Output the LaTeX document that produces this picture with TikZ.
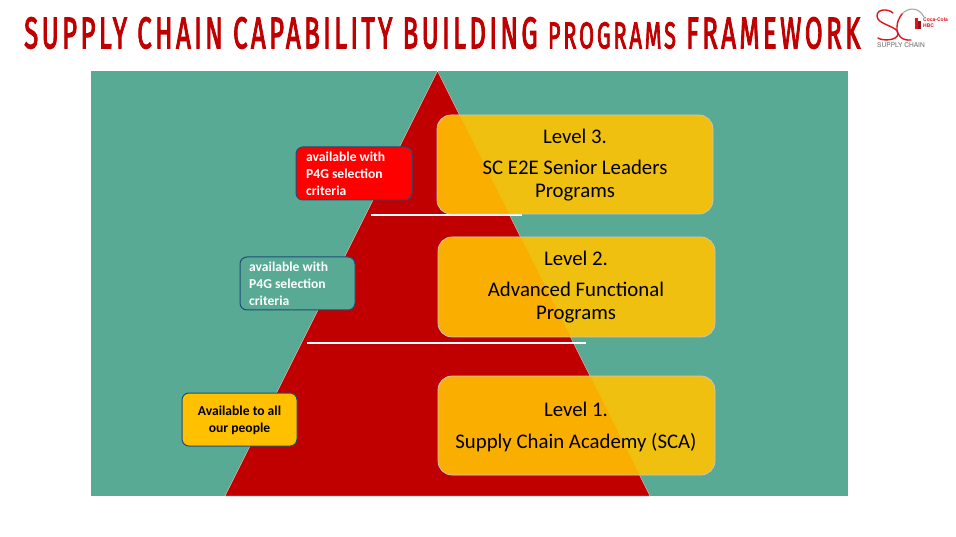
\documentclass[tikz,border=0pt]{standalone}
\usepackage{fontspec}
\setmainfont{Carlito}
\newfontfamily\titlefont[LetterSpace=13,FakeBold=3]{Fira Sans}
\newfontfamily\logofont{TeX Gyre Heros}
\definecolor{tealbg}{HTML}{58AA94}
\definecolor{pyrred}{HTML}{C00000}
\definecolor{boxyel}{HTML}{F0C010}
\definecolor{boxamb}{HTML}{FAAE00}
\definecolor{tagamb}{HTML}{FFC000}
\definecolor{navyedge}{HTML}{1F4E79}
\definecolor{logored}{HTML}{E0141E}
\tikzset{
  x=1pt,y=-1pt,
  levelbox/.style={rounded corners=14pt,draw=gray!45,line width=.7pt},
  leveltext/.style={font=\fontsize{20.8}{23}\selectfont,align=center,text=black,anchor=center},
  tagbox/.style={rounded corners=7pt,draw=navyedge,line width=1pt},
  tagtext/.style={font=\bfseries\fontsize{13.6}{17}\selectfont,align=left,anchor=west,text=white},
  sepline/.style={white,line width=1.4pt}
}
\begin{document}
\begin{tikzpicture}
\useasboundingbox (0,0) rectangle (956,537);
\fill[white] (0,0) rectangle (956,537);
% title
\node[anchor=west,inner sep=0pt,text=pyrred] (title) at (24,33) {\resizebox{836pt}{31pt}{\titlefont SUPPLY CHAIN CAPABILITY BUILDING {\fontsize{8.4}{10}\selectfont PROGRAMS} FRAMEWORK}};
% logo
\draw[gray!70,line width=1.1pt] (902,14) .. controls (908,7) and (919,7) .. (924,17);
\draw[logored,line width=1.4pt,line cap=round] (893,13) .. controls (889,9) and (877,8) .. (877,16) .. controls (877,25) and (899,26) .. (898,34) .. controls (897,41) and (882,41) .. (878,38);
\draw[logored,line width=1.4pt,line cap=round] (911,40) .. controls (902,41) and (896,35) .. (897,27) .. controls (897,22) and (899,18) .. (902,14);
\fill[logored] (915,18) rectangle (918,29);
\fill[logored!70!black] (918,21) rectangle (921,29);
\node[inner sep=0pt,text=logored,font=\logofont\bfseries\fontsize{5}{5.5}\selectfont,align=left,anchor=west] (hbc) at (923,22.5) {Coca-Cola\\HBC};
\node[inner sep=0pt,text=gray!80!black,font=\logofont\fontsize{6.6}{7}\selectfont,anchor=west] (sc) at (877,45) {SUPPLY CHAIN};
% background and pyramid
\fill[tealbg] (91,71) rectangle (848,496);
\coordinate (apex) at (437.5,71);
\coordinate (bl) at (225,496);
\coordinate (br) at (650,496);
\fill[pyrred,draw=white!80!tealbg,line width=.4pt] (apex) -- (br) -- (bl) -- cycle;
\coordinate (s1a) at (371,215);
\coordinate (s1b) at (522,215);
\coordinate (s2a) at (307,343);
\coordinate (s2b) at (586,343);
\draw[sepline] (s1a) -- (s1b);
\draw[sepline] (s2a) -- (s2b);
% level panels
\foreach \a/\b/\c/\d/\n in {437/115/713/214/l3,438/237/715/337/l2,438/376/715/475/l1}{
  \fill[boxyel,rounded corners=14pt] (\a,\b) rectangle (\c,\d);
  \begin{scope}
    \clip (apex) -- (br) -- (bl) -- cycle;
    \fill[boxamb,rounded corners=14pt] (\a,\b) rectangle (\c,\d);
  \end{scope}
  \draw[levelbox] (\a,\b) rectangle (\c,\d);
}
\node[leveltext] (t3) at (575,165.5) {Level 3.\\[8pt]SC E2E Senior Leaders\\Programs};
\node[leveltext] (t2) at (576,287.5) {Level 2.\\[8pt]Advanced Functional\\Programs};
\node[leveltext] (t1) at (576,426.5) {Level 1.\\[9pt]Supply Chain Academy (SCA)};
% tags
\fill[red] (296,147) [rounded corners=7pt] rectangle (412,200);
\draw[tagbox] (296,147) rectangle (412,200);
\node[tagtext,inner sep=0pt] (a3) at (306,173.5) {available with\\P4G selection\\criteria};
\fill[tealbg] (240,257) [rounded corners=7pt] rectangle (355,310);
\draw[tagbox] (240,257) rectangle (355,310);
\node[tagtext,inner sep=0pt] (a2) at (249,284) {available with\\P4G selection\\criteria};
\fill[tagamb] (182,393) [rounded corners=7pt] rectangle (297,446);
\draw[tagbox] (182,393) rectangle (297,446);
\node[tagtext,inner sep=0pt,text=black,align=center,anchor=center] (a1) at (239.5,420) {Available to all\\our people};
\end{tikzpicture}
\end{document}
